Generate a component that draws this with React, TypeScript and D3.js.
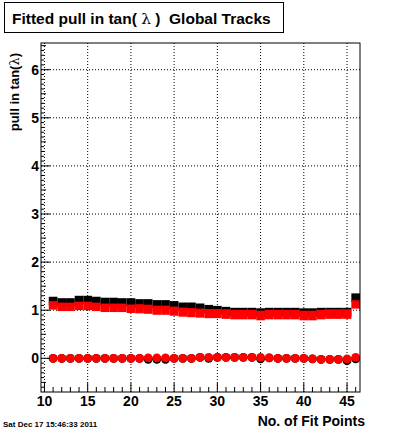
import React from 'react';
import * as d3 from 'd3';

// number of fit points (bin centres)
const fitPoints = [11, 12, 13, 14, 15, 16, 17, 18, 19, 20, 21, 22, 23, 24, 25, 26, 27, 28,
  29, 30, 31, 32, 33, 34, 35, 36, 37, 38, 39, 40, 41, 42, 43, 44, 45, 46];

// sigma of pull, black histogram (drawn first, E2 band)
const sigmaBlack = [1.19, 1.16, 1.16, 1.21, 1.21, 1.19, 1.17, 1.17, 1.16, 1.16, 1.14, 1.14,
  1.12, 1.12, 1.10, 1.07, 1.07, 1.05, 1.02, 1.00, 0.98, 0.96, 0.96, 0.96, 0.95, 0.96, 0.96,
  0.96, 0.96, 0.95, 0.95, 0.96, 0.96, 0.96, 0.96, 1.26];
const sigmaBlackErr = 0.09;

// sigma of pull, red histogram
const sigmaRed = [1.10, 1.07, 1.07, 1.09, 1.09, 1.07, 1.05, 1.05, 1.05, 1.03, 1.03, 1.02,
  1.00, 1.00, 0.98, 0.96, 0.95, 0.94, 0.93, 0.93, 0.92, 0.91, 0.91, 0.91, 0.89, 0.91, 0.91,
  0.91, 0.91, 0.89, 0.89, 0.91, 0.92, 0.92, 0.92, 1.12];
const sigmaRedErr = [0.088, 0.088, 0.088, 0.088, 0.088, 0.088, 0.088, 0.088, 0.088, 0.088,
  0.095, 0.095, 0.095, 0.095, 0.095, 0.095, 0.095, 0.095, 0.095, 0.095,
  0.10, 0.10, 0.10, 0.10, 0.10, 0.10, 0.10, 0.10, 0.10, 0.10, 0.10, 0.10, 0.10, 0.10, 0.10, 0.087];

// mean of pull
const meanBlack = [0.00, 0.00, 0.00, 0.00, 0.00, 0.00, 0.00, 0.00, 0.00, 0.00, 0.00, -0.02,
  -0.02, -0.02, 0.00, 0.00, 0.00, 0.02, 0.00, 0.02, 0.02, 0.02, 0.02, 0.02, -0.01, 0.01, 0.00,
  0.00, 0.00, 0.00, -0.01, -0.02, -0.02, -0.02, -0.05, -0.01];
const meanRed = [0.00, 0.00, 0.00, 0.00, 0.00, 0.00, 0.00, 0.00, 0.00, 0.00, 0.00, 0.01,
  0.01, 0.01, 0.00, 0.00, 0.00, 0.02, 0.02, 0.02, 0.02, 0.02, 0.02, 0.02, 0.02, 0.01, 0.00,
  0.00, 0.00, 0.00, -0.01, -0.02, -0.02, -0.02, -0.01, 0.02];

const xTicks = [10, 15, 20, 25, 30, 35, 40, 45];
const yTicks = [0, 1, 2, 3, 4, 5, 6];

const FONT = '"Liberation Sans", Arial, Helvetica, sans-serif';

const App = () => {
  const left = 41, right = 360, top = 43, bottom = 392;
  const x = d3.scaleLinear().domain([9.6, 46.5]).range([left, right]);
  const y = d3.scaleLinear().domain([-0.70, 6.555]).range([bottom, top]);

  const xMinor = d3.range(10, 47, 1);
  const yMinor = d3.range(-6, 66, 1).map(v => v / 10);

  const band = (vals: number[], errs: (i: number) => number, fill: string) =>
    fitPoints.map((p, i) => (
      <rect key={fill + p}
        x={x(p - 0.5)} width={x(p + 0.5) - x(p - 0.5)}
        y={y(vals[i] + errs(i))} height={y(vals[i] - errs(i)) - y(vals[i] + errs(i))}
        fill={fill} />
    ));

  return (
    <div style={{ position: 'fixed', left: 0, top: 0 }}>
      <svg width={400} height={433} style={{ display: 'block', background: '#fff' }}>
        {/* title box */}
        <rect x={4.5} y={2.5} width={279} height={30} fill="#fff" stroke="#000" strokeWidth={1} />
        <text x={12} y={23.5} fontFamily={FONT} fontWeight="bold" fontSize={15.5}
          style={{ whiteSpace: 'pre' }}>
          {'Fitted pull in tan( '}
          <tspan fontFamily='"DejaVu Serif", serif' fontWeight="normal">λ</tspan>
          {' )  Global Tracks'}
        </text>

        {/* grid */}
        {xTicks.map(t => (
          <line key={'gx' + t} x1={x(t)} x2={x(t)} y1={top} y2={bottom}
            stroke="#000" strokeDasharray="1,2" />
        ))}
        {yTicks.map(t => (
          <line key={'gy' + t} x1={left} x2={right} y1={y(t)} y2={y(t)}
            stroke="#000" strokeDasharray="1,2" />
        ))}

        {/* sigma bands */}
        {band(sigmaBlack, () => sigmaBlackErr, '#000')}
        {band(sigmaRed, i => sigmaRedErr[i], '#ff0000')}

        {/* mean markers */}
        {fitPoints.map((p, i) => (
          <circle key={'mb' + p} cx={x(p)} cy={y(meanBlack[i])} r={4.4} fill="#000" />
        ))}
        {fitPoints.map((p, i) => (
          <circle key={'mr' + p} cx={x(p)} cy={y(meanRed[i])} r={4.4} fill="#ff0000" />
        ))}

        {/* frame */}
        <rect x={left} y={top} width={right - left} height={bottom - top}
          fill="none" stroke="#000" strokeWidth={1} />

        {/* y axis ticks */}
        {yMinor.map(v => {
          const major = Math.abs(v - Math.round(v)) < 1e-6;
          const half = Math.abs(v * 2 - Math.round(v * 2)) < 1e-6;
          const len = major ? 9 : half ? 5 : 3;
          return <line key={'yt' + v} x1={left} x2={left + len} y1={y(v)} y2={y(v)} stroke="#000" />;
        })}
        {yTicks.map(t => (
          <text key={'yl' + t} x={39} y={y(t) + 5} textAnchor="end"
            fontFamily={FONT} fontWeight="bold" fontSize={14}>{t}</text>
        ))}

        {/* x axis ticks */}
        {xMinor.map(v => {
          const len = v % 5 === 0 ? 9 : 5;
          return <line key={'xt' + v} x1={x(v)} x2={x(v)} y1={bottom} y2={bottom - len} stroke="#000" />;
        })}
        {xTicks.map(t => (
          <text key={'xl' + t} x={x(t)} y={406} textAnchor="middle"
            fontFamily={FONT} fontWeight="bold" fontSize={14}>{t}</text>
        ))}

        {/* axis titles */}
        <text x={365} y={426} textAnchor="end" fontFamily={FONT} fontWeight="bold" fontSize={14}>
          No. of Fit Points
        </text>
        <text transform="translate(18.5,53) rotate(-90)" textAnchor="end"
          fontFamily={FONT} fontWeight="bold" fontSize={13}>
          pull in tan(<tspan fontFamily='"DejaVu Serif", serif' fontWeight="normal">λ</tspan>)
        </text>

        {/* date stamp */}
        <text x={3} y={427} fontFamily={FONT} fontWeight="bold" fontSize={8}>
          Sat Dec 17 15:46:33 2011
        </text>
      </svg>
    </div>
  );
};

export default App;
